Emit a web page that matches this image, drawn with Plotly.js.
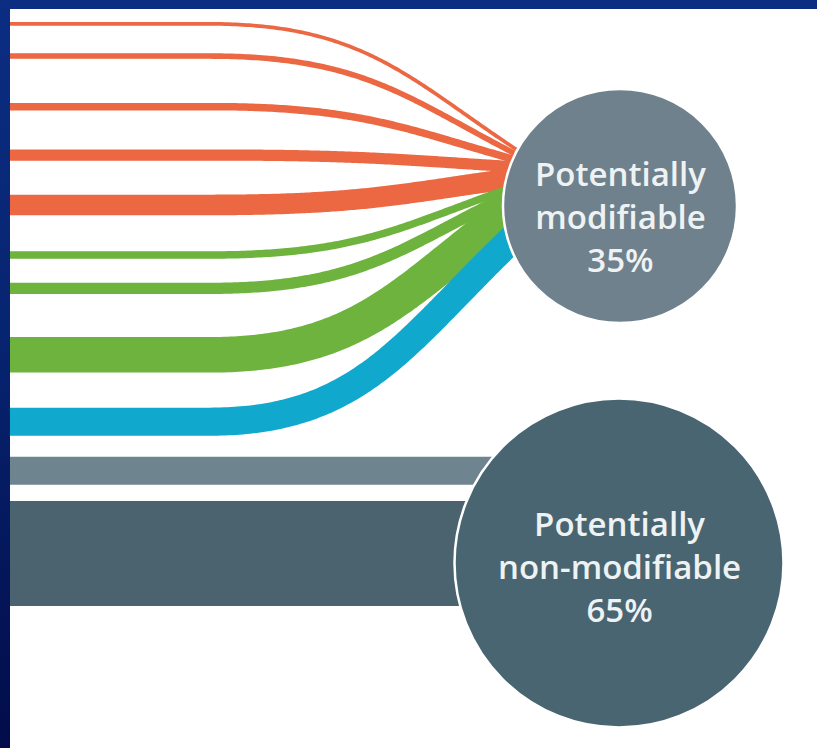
<!DOCTYPE html>
<html>
<head>
<meta charset="utf-8">
<script src="https://cdn.plot.ly/plotly-3.0.1.min.js"></script>
<style>
  html, body { margin: 0; padding: 0; }
  body {
    width: 817px; height: 748px; overflow: hidden;
    background: linear-gradient(180deg, #0b2d82 0%, #072470 45%, #020c4a 100%);
  }
  #chart { width: 817px; height: 748px; }
</style>
</head>
<body>
<div id="chart"></div>
<script>
// ---- data -------------------------------------------------------------
// Two destination nodes and their shares (percent)
const nodeNames  = ['Potentially<br>modifiable', 'Potentially<br>non-modifiable'];
const nodeValues = [35, 65];

// Flows into the "modifiable" node, top to bottom (percentage points)
const modFlowValues = [1, 1.5, 2, 3, 5.5, 2, 3, 9.5, 7.5];
// Colour family of each of those flows (index into groupColors)
const modFlowGroup  = [0, 0, 0, 0, 0, 1, 1, 1, 2];

// Flows into the "non-modifiable" node, top to bottom
const nonModFlowValues = [7.5, 57.5];

// ---- styling / layout ---------------------------------------------------
const groupColors   = ['#eb6843', '#6db33d', '#10a8cd'];
const nonModColors  = ['#6e848f', '#4a636f'];
const nodeColors    = ['#6f818c', '#486571'];

const PX_PER_POINT = 3.75;     // band thickness per percentage point
const BAND_CAP     = 28;       // the large residual band is drawn clipped
const LANE_TOP     = 22;       // top edge of the first lane
const laneGaps     = [27.5, 44, 39, 34, 36, 24, 43, 35, 21, 16];
const nodeCenters  = [[620, 206], [619, 563]];
const labelOffsets = [10, 3];
const BEND_START   = 210;      // where the flows leave their straight lanes
const CONVERGE     = 0.8;      // how tightly flows bunch up at the node
const CONVERGE_SHIFT = -5;     // bundle sits slightly above the node centre
const X0 = 10, X1 = 817, Y0 = 9, Y1 = 748;

const radiusOf = v => 16.56 * Math.pow(v, 0.55);

// ---- lanes (left-hand positions) ---------------------------------------
const allValues = modFlowValues.concat(nonModFlowValues);
const widths = allValues.map(v => PX_PER_POINT * Math.min(v, BAND_CAP));
const laneCenters = [];
let edge = LANE_TOP;
widths.forEach((w, i) => {
  if (i > 0) edge += laneGaps[i - 1];
  laneCenters.push(edge + w / 2);
  edge += w;
});

const traces = [];

// ---- curved flows into the modifiable node -----------------------------
const [mcx, mcy] = nodeCenters[0];
const mr = radiusOf(nodeValues[0]);
const modWidths = widths.slice(0, modFlowValues.length);
const span = modWidths.reduce((a, b) => a + b, 0) * CONVERGE;
let cum = 0;

function bez(p0, p1, p2, p3, t) {
  const s = 1 - t;
  return s * s * s * p0 + 3 * s * s * t * p1 + 3 * s * t * t * p2 + t * t * t * p3;
}

modFlowValues.forEach((v, i) => {
  const w = modWidths[i];
  const y0 = laneCenters[i];
  const yT = mcy + CONVERGE_SHIFT - span / 2 + (cum + w / 2) * CONVERGE;
  cum += w;
  const xT = mcx - Math.sqrt(mr * mr - (yT - mcy) * (yT - mcy));
  const L = xT - BEND_START;
  const p = [[BEND_START, y0], [BEND_START + 0.5 * L, y0],
             [xT - 0.35 * L, yT + 0.56 * (y0 - yT)], [xT, yT]];
  const xs = [X0 - 5], ys = [y0];
  const N = 120;
  for (let k = 0; k <= N; k++) {
    const t = k / N;
    xs.push(bez(p[0][0], p[1][0], p[2][0], p[3][0], t));
    ys.push(bez(p[0][1], p[1][1], p[2][1], p[3][1], t));
  }
  // run the end on into the node so it sits under the disc
  const dx = p[3][0] - p[2][0], dy = p[3][1] - p[2][1];
  const d = Math.hypot(dx, dy);
  xs.push(xT + 30 * dx / d); ys.push(yT + 30 * dy / d);
  traces.push({
    type: 'scatter', mode: 'lines', x: xs, y: ys,
    line: { color: groupColors[modFlowGroup[i]], width: w, shape: 'linear', simplify: false },
    hoverinfo: 'skip', showlegend: false
  });
});

// ---- straight flows into the non-modifiable node -----------------------
const [ncx, ncy] = nodeCenters[1];
nonModFlowValues.forEach((v, j) => {
  const i = modFlowValues.length + j;
  traces.push({
    type: 'scatter', mode: 'lines',
    x: [X0 - 5, ncx], y: [laneCenters[i], laneCenters[i]],
    line: { color: nonModColors[j], width: widths[i] },
    hoverinfo: 'skip', showlegend: false
  });
});

// ---- nodes --------------------------------------------------------------
const shapes = nodeValues.map((v, k) => {
  const r = radiusOf(v);
  const [cx, cy] = nodeCenters[k];
  return {
    type: 'circle', xref: 'x', yref: 'y', layer: 'above',
    x0: cx - r, x1: cx + r, y0: cy - r, y1: cy + r,
    fillcolor: nodeColors[k], line: { color: '#ffffff', width: 2.5 }
  };
});

const annotations = nodeValues.map((v, k) => ({
  x: nodeCenters[k][0], y: nodeCenters[k][1] + labelOffsets[k],
  xref: 'x', yref: 'y', showarrow: false,
  text: nodeNames[k] + '<br>' + v + '%',
  align: 'center',
  font: { family: 'Open Sans, sans-serif', size: 33, color: '#eef2f3', weight: 600 }
}));

const axisOff = { visible: false, showgrid: false, zeroline: false, fixedrange: true };

Plotly.newPlot('chart', traces, {
  width: 817, height: 748,
  margin: { l: X0, t: Y0, r: 0, b: 0, pad: 0 },
  paper_bgcolor: 'rgba(0,0,0,0)',
  plot_bgcolor: '#ffffff',
  xaxis: Object.assign({ range: [X0, X1] }, axisOff),
  yaxis: Object.assign({ range: [Y1, Y0] }, axisOff),
  shapes: shapes,
  annotations: annotations,
  showlegend: false
}, { displayModeBar: false, staticPlot: true });
</script>
</body>
</html>
